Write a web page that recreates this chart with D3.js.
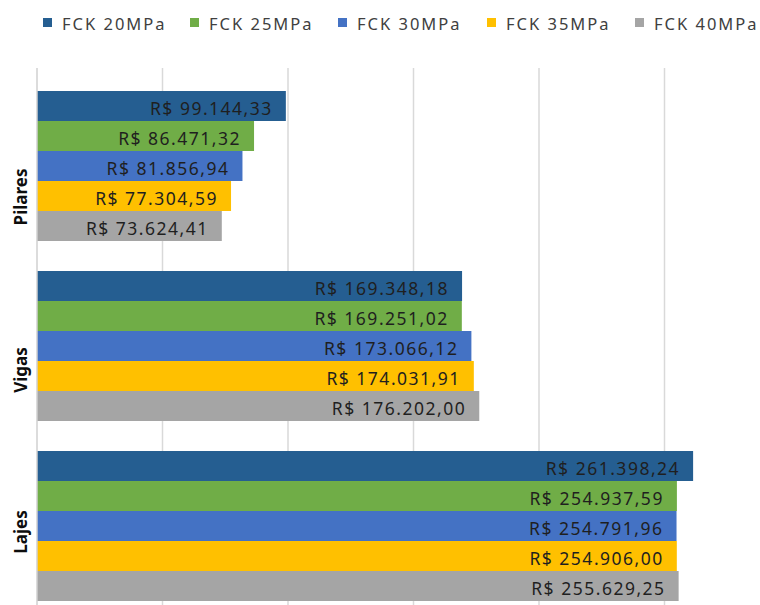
<!DOCTYPE html>
<html>
<head>
<meta charset="utf-8">
<script src="https://cdn.jsdelivr.net/npm/d3@7"></script>
<style>
  html, body { margin: 0; padding: 0; background: #fff; }
  svg { display: block; }
</style>
</head>
<body>
<svg id="chart" width="760" height="605"></svg>
<script>
// ---- data ----
const categories = ["Pilares", "Vigas", "Lajes"];
const seriesNames = ["FCK 20MPa", "FCK 25MPa", "FCK 30MPa", "FCK 35MPa", "FCK 40MPa"];
const fck20 = [99144.33, 169348.18, 261398.24];
const fck25 = [86471.32, 169251.02, 254937.59];
const fck30 = [81856.94, 173066.12, 254791.96];
const fck35 = [77304.59, 174031.91, 254906.00];
const fck40 = [73624.41, 176202.00, 255629.25];
const xTicks = [0, 50000, 100000, 150000, 200000, 250000, 300000];

const seriesValues = [fck20, fck25, fck30, fck35, fck40];
const colors = ["#255E91", "#70AD47", "#4472C4", "#FFC000", "#A5A5A5"];

// ---- layout ----
const svg = d3.select("#chart");
const font = "'Noto Sans', 'Open Sans', sans-serif";
const x = d3.scaleLinear().domain([0, 300000]).range([37, 790]);
const y = d3.scaleBand().domain(categories).range([76, 616])
  .paddingInner(1/6).paddingOuter(1/12);
const ySeries = d3.scaleBand().domain(seriesNames).range([0, y.bandwidth()]);
const labelOffsets = [31, 24, 6];

// gridlines
svg.append("g").selectAll("line").data(xTicks.slice(1)).join("line")
  .attr("x1", d => x(d)).attr("x2", d => x(d))
  .attr("y1", 68).attr("y2", 605)
  .attr("stroke", "#d9d9d9").attr("stroke-width", 1.5);

// bars
const fmt = v => "R$ " + v.toLocaleString("pt-BR", {minimumFractionDigits: 2, maximumFractionDigits: 2});
const rows = [];
categories.forEach((c, ci) => {
  seriesNames.forEach((s, si) => {
    rows.push({cat: c, ser: s, si, value: seriesValues[si][ci]});
  });
});
const g = svg.append("g");
g.selectAll("rect").data(rows).join("rect")
  .attr("x", x(0))
  .attr("y", d => y(d.cat) + ySeries(d.ser))
  .attr("width", d => x(d.value) - x(0))
  .attr("height", ySeries.bandwidth())
  .attr("fill", d => colors[d.si]);

g.selectAll("text").data(rows).join("text")
  .attr("x", d => x(d.value) - 13)
  .attr("y", d => y(d.cat) + ySeries(d.ser) + 23.5)
  .attr("text-anchor", "end")
  .attr("font-family", font)
  .attr("font-size", 17.5)
  .attr("letter-spacing", "1.5px")
  .attr("fill", "#1f1f1f")
  .text(d => fmt(d.value));

// axis line (left)
svg.append("line")
  .attr("x1", x(0)).attr("x2", x(0))
  .attr("y1", 68).attr("y2", 605)
  .attr("stroke", "#d0d0d0").attr("stroke-width", 1.5);

// category labels
svg.append("g").selectAll("text").data(categories).join("text")
  .attr("transform", (d, i) => `translate(27,${y(d) + y.bandwidth() / 2 + labelOffsets[i]}) rotate(-90)`)
  .attr("text-anchor", "middle")
  .attr("font-family", font)
  .attr("font-weight", "bold")
  .attr("font-size", 17)
  .attr("fill", "#0d0d0d")
  .text(d => d);

// legend
const legendX = [43, 190, 338, 487, 635];
const leg = svg.append("g").selectAll("g").data(seriesNames).join("g")
  .attr("transform", (d, i) => `translate(${legendX[i]},0)`);
leg.append("rect").attr("x", 0).attr("y", 18).attr("width", 9).attr("height", 9)
  .attr("fill", (d, i) => colors[i]);
leg.append("text").attr("x", 19).attr("y", 30)
  .attr("font-family", font).attr("font-size", 16.5)
  .attr("letter-spacing", "2px")
  .attr("fill", "#404040")
  .text(d => d);
</script>
</body>
</html>
